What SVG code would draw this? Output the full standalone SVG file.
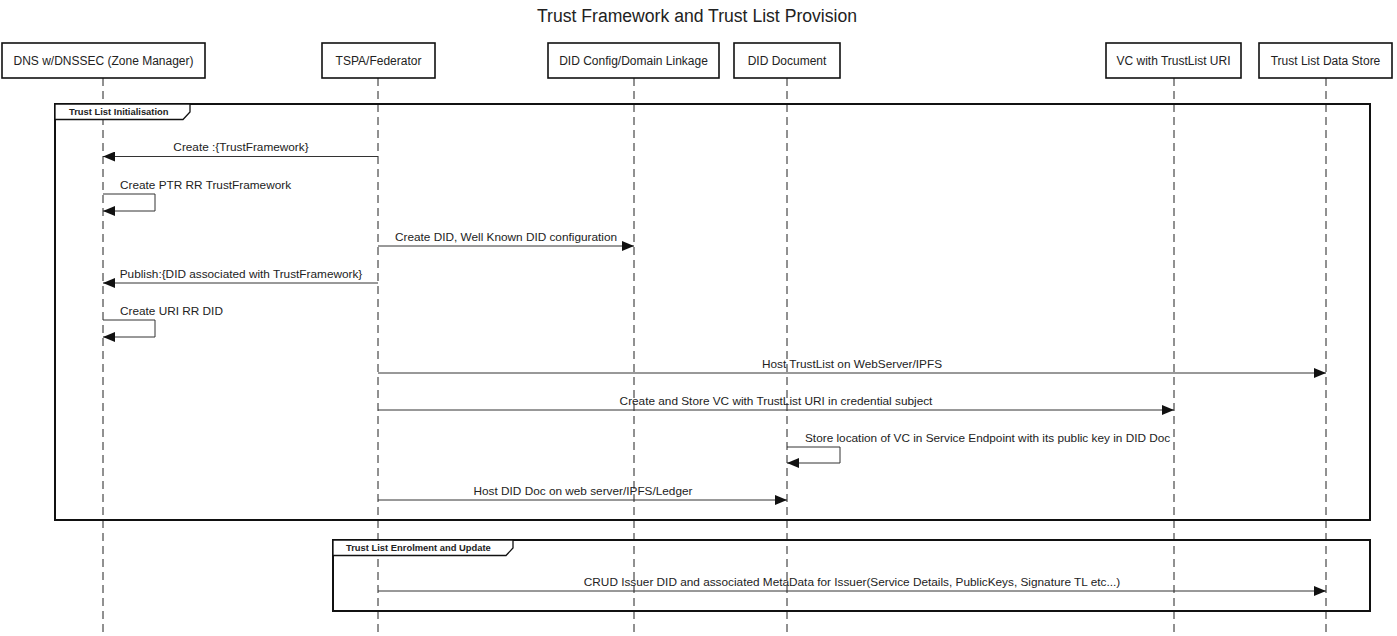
<svg xmlns="http://www.w3.org/2000/svg" width="1397" height="636" viewBox="0 0 1397 636">
<style>
text{font-family:"Liberation Sans",Arial,sans-serif;fill:#222}
.title{font-size:17.6px;text-anchor:middle}
.hd rect{fill:#fff;stroke:#111;stroke-width:1.6}
.hd text{font-size:12px;text-anchor:middle}
.life{stroke:#222;stroke-width:1;stroke-dasharray:8,5;fill:none}
.frame{fill:none;stroke:#111;stroke-width:2}
.tab{fill:#fff;stroke:#111;stroke-width:1.3}
.flab{font-size:9.4px;font-weight:bold}
.msg{stroke:#333;stroke-width:1;fill:none}
.ml{font-size:11.8px;text-anchor:middle}
.ms{font-size:11.8px}
</style>
<defs>
<marker id="ah" markerWidth="12" markerHeight="10" refX="12" refY="5" orient="auto" markerUnits="userSpaceOnUse">
<path d="M0,0 L12,5 L0,10 Z" fill="#111"/>
</marker>
</defs>
<rect width="1397" height="636" fill="#fff"/>
<text class="title" x="697" y="22">Trust Framework and Trust List Provision</text>

<g id="lifelines">
<line class="life" x1="103" y1="78" x2="103" y2="636"/>
<line class="life" x1="378" y1="78" x2="378" y2="636"/>
<line class="life" x1="634" y1="78" x2="634" y2="636"/>
<line class="life" x1="787" y1="78" x2="787" y2="636"/>
<line class="life" x1="1174" y1="78" x2="1174" y2="636"/>
<line class="life" x1="1326" y1="78" x2="1326" y2="636"/>
</g>

<g id="frame-init">
<rect class="frame" x="55" y="104" width="1315" height="416"/>
<path class="tab" d="M55,104 H190 V112 L183,119.5 H55 Z"/>
<text class="flab" x="69" y="115">Trust List Initialisation</text>
</g>
<g id="frame-enrol">
<rect class="frame" x="333" y="540" width="1037" height="71"/>
<path class="tab" d="M333,540 H513 V548 L506,555.5 H333 Z"/>
<text class="flab" x="346" y="551">Trust List Enrolment and Update</text>
</g>

<g id="dns" class="hd"><rect x="2" y="43" width="203" height="35"/><text x="103.5" y="65">DNS w/DNSSEC (Zone Manager)</text></g>
<g id="tspa" class="hd"><rect x="322" y="43" width="113" height="35"/><text x="378.5" y="65">TSPA/Federator</text></g>
<g id="didconfig" class="hd"><rect x="548" y="43" width="171" height="35"/><text x="633.5" y="65">DID Config/Domain Linkage</text></g>
<g id="diddoc" class="hd"><rect x="734" y="43" width="106" height="35"/><text x="787" y="65">DID Document</text></g>
<g id="vc" class="hd"><rect x="1106" y="43" width="135" height="35"/><text x="1173.5" y="65">VC with TrustList URI</text></g>
<g id="store" class="hd"><rect x="1259" y="43" width="133" height="35"/><text x="1325.5" y="65">Trust List Data Store</text></g>

<g id="connectors">
<line class="msg" x1="378" y1="156.5" x2="103" y2="156.5" marker-end="url(#ah)"/>
<text class="ml" x="241" y="151">Create :{TrustFramework}</text>

<path class="msg" d="M103,194 H155 V211 H103" marker-end="url(#ah)"/>
<text class="ms" x="120" y="189">Create PTR RR TrustFramework</text>

<line class="msg" x1="378" y1="246" x2="634" y2="246" marker-end="url(#ah)"/>
<text class="ml" x="506" y="241">Create DID, Well Known DID configuration</text>

<line class="msg" x1="378" y1="283" x2="103" y2="283" marker-end="url(#ah)"/>
<text class="ml" x="241" y="278">Publish:{DID associated with TrustFramework}</text>

<path class="msg" d="M103,320 H155 V337 H103" marker-end="url(#ah)"/>
<text class="ms" x="120" y="315">Create URI RR DID</text>

<line class="msg" x1="378" y1="373" x2="1326" y2="373" marker-end="url(#ah)"/>
<text class="ml" x="852" y="368">Host TrustList on WebServer/IPFS</text>

<line class="msg" x1="378" y1="410" x2="1174" y2="410" marker-end="url(#ah)"/>
<text class="ml" x="776" y="405">Create and Store VC with TrustList URI in credential subject</text>

<path class="msg" d="M787,447 H840 V463 H787" marker-end="url(#ah)"/>
<text class="ms" x="805" y="442">Store location of VC in Service Endpoint with its public key in DID Doc</text>

<line class="msg" x1="378" y1="500" x2="787" y2="500" marker-end="url(#ah)"/>
<text class="ml" x="583" y="495">Host DID Doc on web server/IPFS/Ledger</text>

<line class="msg" x1="378" y1="591" x2="1326" y2="591" marker-end="url(#ah)"/>
<text class="ml" x="852" y="586">CRUD Issuer DID and associated MetaData for Issuer(Service Details, PublicKeys, Signature TL etc...)</text>
</g>
</svg>
